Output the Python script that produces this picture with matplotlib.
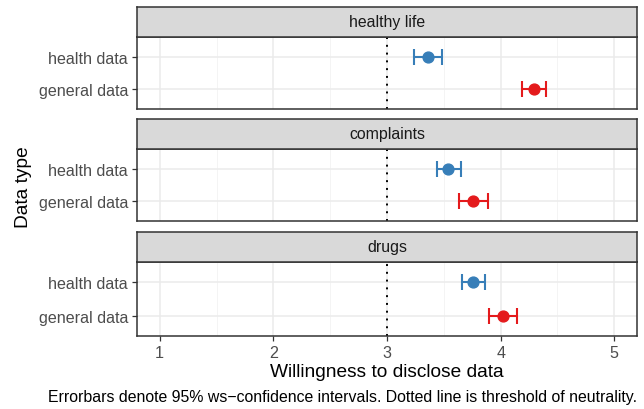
import matplotlib
matplotlib.use("Agg")
import matplotlib.pyplot as plt
from matplotlib.ticker import FixedLocator

plt.rcParams["font.family"] = ["Liberation Sans", "DejaVu Sans"]

# data
panels = ["healthy life", "complaints", "drugs"]
data_types = ["general data", "health data"]  # bottom -> top
means = {
    "healthy life": [4.29, 3.36],
    "complaints":   [3.76, 3.54],
    "drugs":        [4.02, 3.76],
}
lower = {
    "healthy life": [4.19, 3.24],
    "complaints":   [3.63, 3.44],
    "drugs":        [3.90, 3.66],
}
upper = {
    "healthy life": [4.40, 3.48],
    "complaints":   [3.89, 3.65],
    "drugs":        [4.14, 3.86],
}
colors = ["#E41A1C", "#377EB8"]
x_ticks = [1, 2, 3, 4, 5]
neutral = 3

W, H = 644, 410
fig = plt.figure(figsize=(W / 100, H / 100), dpi=100)

left, right = 137, 637
# (strip top, strip bottom, panel bottom) in pixels from top
boxes = [(8, 38, 110), (120, 150, 222), (233, 263, 337)]
border = "#333333"

for i, (name, (st, sb, pb)) in enumerate(zip(panels, boxes)):
    ax = fig.add_axes([left / W, 1 - pb / H, (right - left) / W, (pb - sb) / H])
    sx = fig.add_axes([left / W, 1 - sb / H, (right - left) / W, (sb - st) / H])
    sx.set_facecolor("#D9D9D9")
    sx.set_xticks([]); sx.set_yticks([])
    for s in sx.spines.values():
        s.set_color(border); s.set_linewidth(1.1)
    sx.text(0.5, 0.5, name, ha="center", va="center", fontsize=11.4, color="#1A1A1A",
            transform=sx.transAxes)

    ys = list(range(len(data_types)))
    for j, y in enumerate(ys):
        m = means[name][j]
        ax.errorbar([m], [y], xerr=[[m - lower[name][j]], [upper[name][j] - m]],
                    fmt="o", color=colors[j], ms=7.8, elinewidth=1.5,
                    capsize=5.5, capthick=1.5, zorder=3)
    ax.axvline(neutral, color="black", ls=(0, (1, 3)), lw=1.4, zorder=2)

    ax.set_xlim(0.8, 5.2)
    ax.set_ylim(-0.6, 1.6)
    ax.set_yticks(ys)
    ax.set_yticklabels(data_types)
    ax.set_xticks(x_ticks)
    ax.xaxis.set_minor_locator(FixedLocator([1.5, 2.5, 3.5, 4.5]))
    ax.grid(True, which="major", color="#EBEBEB", lw=1.1, zorder=0)
    ax.grid(True, which="minor", axis="x", color="#F2F2F2", lw=0.6, zorder=0)
    ax.set_axisbelow(True)
    for s in ax.spines.values():
        s.set_color(border); s.set_linewidth(1.1)
    ax.tick_params(which="major", length=3.5, width=0.9, color=border,
                   labelcolor="#4D4D4D", labelsize=11.6, pad=3)
    ax.tick_params(which="minor", length=0)
    if i < len(panels) - 1:
        ax.tick_params(axis="x", labelbottom=False, length=0)

fig.text(387 / W, 1 - 373 / H, "Willingness to disclose data", ha="center", va="center",
         fontsize=13.8, color="black")
fig.text(24 / W, 1 - 187 / H, "Data type", ha="center", va="center", rotation=90,
         fontsize=13.8, color="black")
fig.text(637 / W, 1 - 398 / H,
         "Errorbars denote 95% ws\u2212confidence intervals. Dotted line is threshold of neutrality.",
         ha="right", va="center", fontsize=11.4, color="black")

fig.savefig("out.png", dpi=100)
